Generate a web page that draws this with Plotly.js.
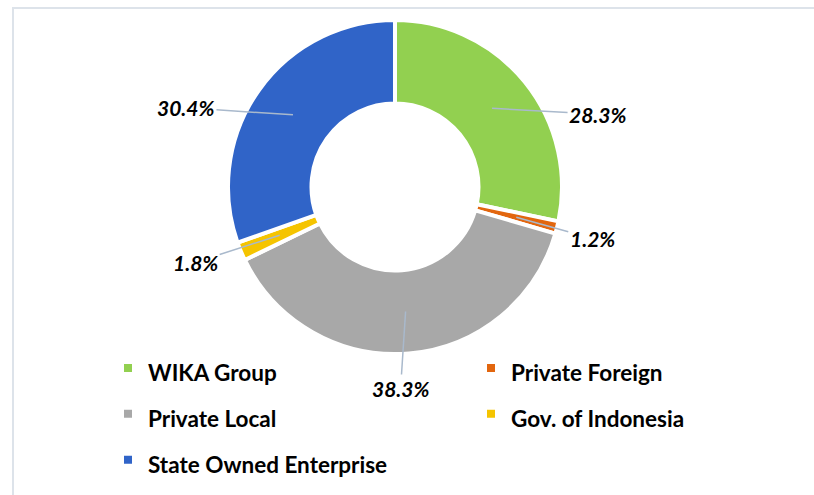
<!DOCTYPE html>
<html>
<head>
<meta charset="utf-8">
<script src="https://cdn.plot.ly/plotly-3.0.1.min.js"></script>
<style>
  html, body { margin: 0; padding: 0; background: #ffffff; }
  #chart { width: 814px; height: 495px; }
</style>
</head>
<body>
<div id="chart"></div>
<script>
// ---- data ----
const categories = ['WIKA Group', 'Private Foreign', 'Private Local', 'Gov. of Indonesia', 'State Owned Enterprise'];
const shares = [28.3, 1.2, 38.3, 1.8, 30.4];
const sliceColors = ['#92d050', '#e2660e', '#a8a8a8', '#f5c400', '#3064c8'];

// ---- styling / layout constants ----
const W = 814, H = 495;
const cx = 395, cy = 187, R = 167;          // donut centre and outer radius (px)
const holeFrac = 0.5;
const labelRadius = 125;                      // where leader lines touch the ring
const labelOffsets = [[106, 6], [76, 21], [-5, 77], [-84, 27], [-107, -7]];

const total = shares.reduce((a, b) => a + b, 0);

// legend names with a smaller inline font so rows keep the wide spacing
const legendNames = categories.map(c => '<span style="font-size:22.5px"><b>' + c + '</b></span>');

const trace = {
  type: 'pie',
  labels: legendNames,
  values: shares,
  sort: false,
  direction: 'clockwise',
  rotation: 0,
  hole: holeFrac,
  textinfo: 'none',
  hoverinfo: 'label+percent',
  marker: { colors: sliceColors, line: { color: '#ffffff', width: 4 } },
  domain: {
    x: [(cx - R) / W, (cx + R) / W],
    y: [1 - (cy + R) / H, 1 - (cy - R) / H]
  }
};

// data labels with leader lines, anchored at each slice's mid-angle
const annotations = [];
let cum = 0;
shares.forEach((v, i) => {
  const mid = (cum + v / 2) / total * 2 * Math.PI;
  cum += v;
  const px = cx + labelRadius * Math.sin(mid);
  const py = cy - labelRadius * Math.cos(mid);
  annotations.push({
    xref: 'paper', yref: 'paper',
    x: px / W, y: 1 - py / H,
    ax: labelOffsets[i][0], ay: labelOffsets[i][1],
    text: '<b><i>' + v.toFixed(1) + '%</i></b>',
    showarrow: true, arrowhead: 0, arrowwidth: 1.5, arrowcolor: '#a9b9cc', standoff: 0,
    font: { family: 'Lato, Calibri, sans-serif', size: 21, color: '#000000' }
  });
});

const layout = {
  width: W, height: H,
  margin: { l: 0, r: 0, t: 0, b: 0, autoexpand: false },
  paper_bgcolor: '#ffffff',
  showlegend: true,
  legend: {
    orientation: 'h',
    x: 108 / W, xanchor: 'left',
    y: 1 - 340 / H, yanchor: 'top',
    entrywidth: 318, entrywidthmode: 'pixels',
    font: { family: 'Lato, Calibri, sans-serif', size: 33, color: '#000000' },
    itemclick: false, itemdoubleclick: false,
    bgcolor: 'rgba(0,0,0,0)'
  },
  annotations: annotations,
  shapes: [
    { type: 'line', xref: 'paper', yref: 'paper', x0: 12 / W, x1: 1, y0: 1 - 8 / H, y1: 1 - 8 / H,
      line: { color: '#dde3ea', width: 2 } },
    { type: 'line', xref: 'paper', yref: 'paper', x0: 13 / W, x1: 13 / W, y0: 0, y1: 1 - 8 / H,
      line: { color: '#dde3ea', width: 2 } }
  ]
};

Plotly.newPlot('chart', [trace], layout, { displayModeBar: false, staticPlot: true });
</script>
</body>
</html>
